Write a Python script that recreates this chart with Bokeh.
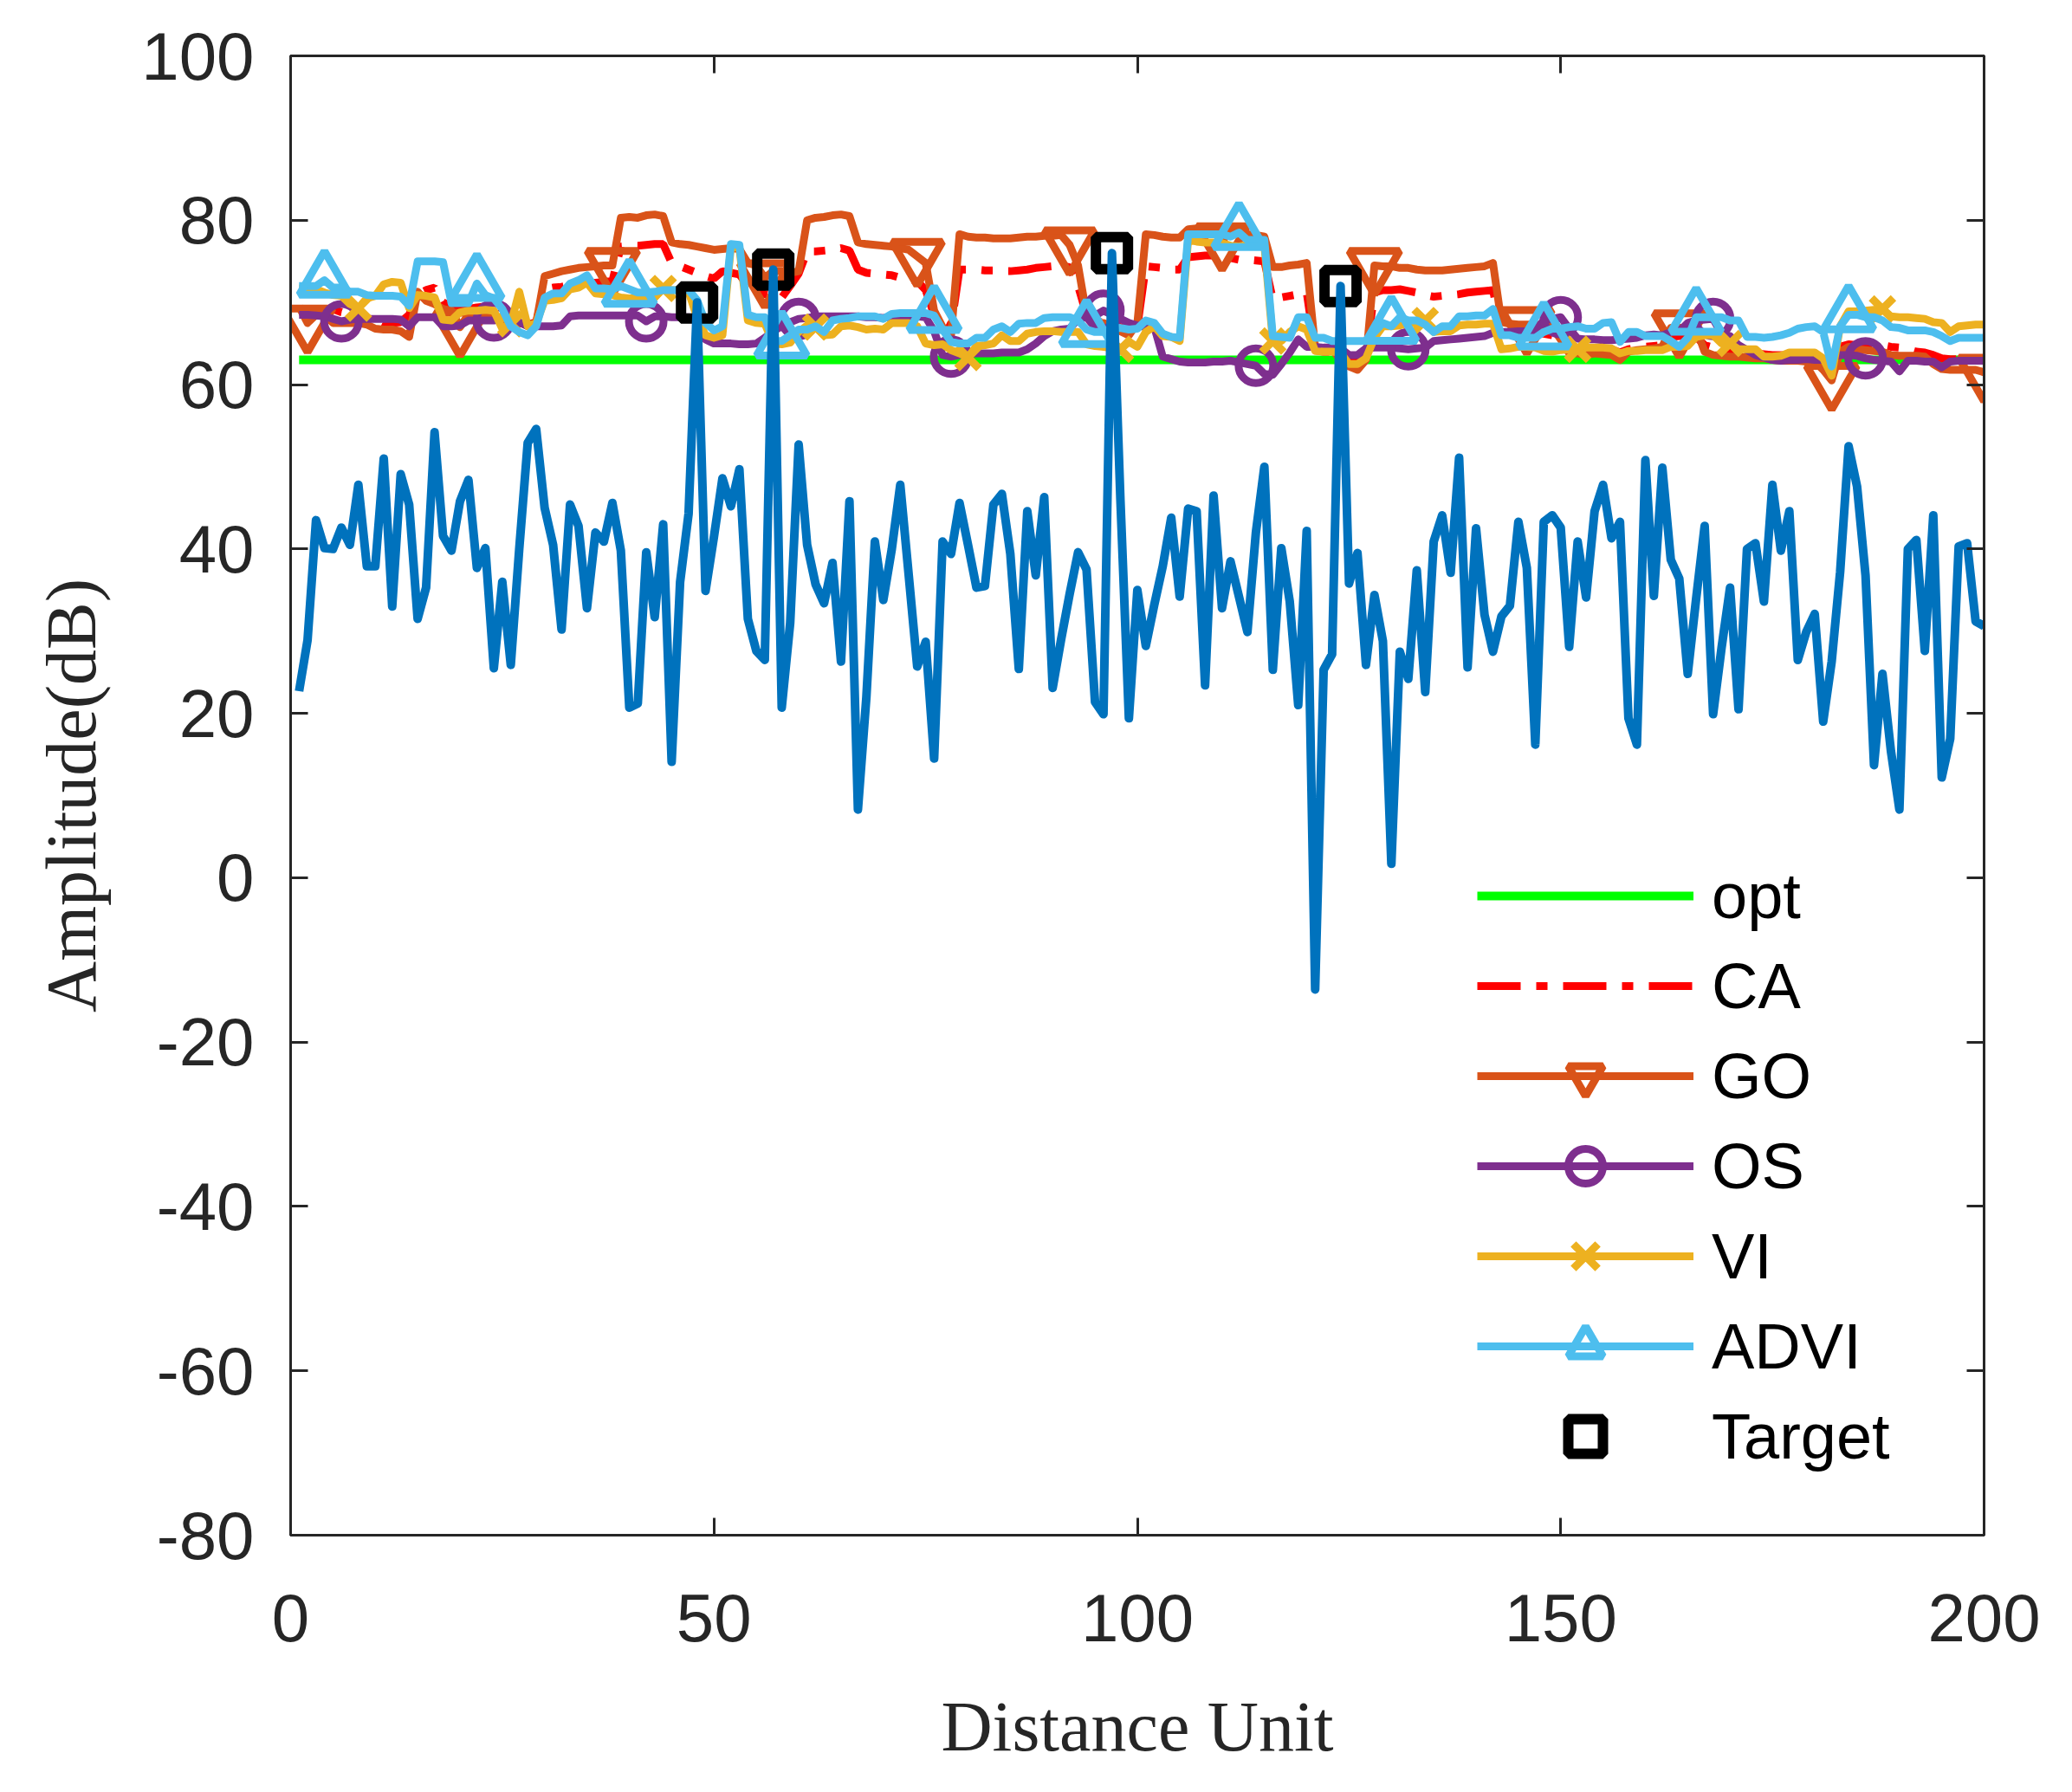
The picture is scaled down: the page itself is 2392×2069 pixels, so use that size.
from bokeh.plotting import figure
from bokeh.models import ColumnDataSource, Range1d, LinearAxis, FixedTicker, Legend, LegendItem
from bokeh.embed import file_html
from bokeh.resources import INLINE

# ---------------- data ----------------
distance = list(range(1, 201))

signal = [
    22.7, 28.9, 43.5, 40.1, 40.0, 42.6, 40.5, 47.8, 37.9, 37.9,
    51.0, 33.0, 49.1, 45.4, 31.5, 35.3, 54.2, 41.6, 39.8, 45.8,
    48.4, 37.7, 40.1, 25.5, 36.0, 25.9, 40.0, 52.9, 54.6, 45.0,
    40.5, 30.2, 45.4, 42.8, 32.8, 42.0, 40.9, 45.6, 39.8, 20.7,
    21.2, 39.6, 31.7, 43.0, 14.1, 36.0, 44.3, 70.0, 34.9, 41.5,
    48.6, 45.2, 49.7, 31.5, 27.6, 26.5, 74.0, 20.7, 31.0, 52.7,
    40.5, 35.7, 33.4, 38.3, 26.3, 45.8, 8.3, 22.0, 40.9, 33.8,
    40.0, 47.8, 36.8, 25.7, 28.7, 14.5, 40.9, 39.4, 45.6, 40.5,
    35.3, 35.5, 45.4, 46.7, 39.4, 25.4, 44.6, 36.8, 46.3, 23.1,
    29.0, 34.5, 39.6, 37.5, 21.4, 19.9, 76.0, 46.0, 19.4, 35.0,
    28.2, 33.2, 37.9, 43.8, 34.2, 44.9, 44.6, 23.4, 46.5, 32.8,
    38.5, 34.2, 29.9, 42.0, 50.0, 25.3, 40.1, 33.6, 21.0, 42.2,
    -13.6, 25.3, 27.2, 72.0, 35.8, 39.5, 25.9, 34.4, 28.8, 1.7,
    27.5, 24.2, 37.4, 22.6, 40.9, 44.1, 37.1, 51.1, 25.6, 42.5,
    32.0, 27.5, 31.8, 33.1, 43.3, 37.7, 16.2, 43.3, 44.1, 42.6,
    28.1, 40.9, 34.1, 44.6, 47.8, 41.3, 43.3, 19.4, 16.2, 50.8,
    34.3, 49.9, 38.7, 36.4, 24.8, 34.0, 42.8, 19.9, 28.0, 35.3,
    20.5, 40.0, 40.7, 33.6, 47.8, 39.8, 44.6, 26.5, 29.9, 32.1,
    19.0, 26.3, 37.2, 52.5, 47.6, 36.8, 13.7, 24.8, 15.4, 8.3,
    40.0, 41.1, 27.6, 44.1, 12.2, 16.9, 40.3, 40.7, 31.2, 30.6,
]

opt = [63.0] * 200

ca = [
    69.0, 69.0, 69.0, 69.0, 69.2, 68.8, 68.6, 68.4, 68.2, 68.0,
    67.5, 67.5, 67.6, 68.5, 71.0, 71.5, 71.8, 70.0, 69.5, 69.0,
    69.2, 69.4, 69.5, 69.5, 69.3, 68.5, 67.5, 67.3, 67.6, 71.6,
    71.8, 71.9, 72.1, 72.2, 72.3, 72.4, 72.5, 72.6, 76.8, 76.9,
    76.9, 77.0, 77.1, 77.1, 74.8, 74.4, 74.0, 73.6, 73.2, 72.9,
    73.8, 73.6, 73.4, 72.0, 71.5, 71.0, 70.8, 70.6, 72.0, 73.5,
    76.2, 76.2, 76.3, 76.4, 76.6, 76.3, 74.0, 73.6, 73.5, 73.4,
    73.3, 73.0, 72.8, 72.6, 71.5, 68.5, 67.5, 67.0, 74.0, 74.0,
    74.0, 73.9, 73.9, 73.8, 73.8, 73.9, 74.0, 74.2, 74.3, 74.4,
    74.4, 74.3, 72.0, 68.5, 67.8, 67.5, 67.2, 67.0, 66.8, 67.0,
    74.4, 74.3, 74.2, 74.0, 74.0, 75.5, 75.6, 75.7, 75.7, 75.6,
    75.4, 75.2, 75.2, 75.1, 75.0, 70.4, 70.6, 70.8, 71.0, 71.2,
    64.2, 64.0, 64.0, 63.5, 63.2, 63.0, 63.5, 71.2, 71.5, 71.5,
    71.6, 71.4, 71.2, 70.9, 70.7, 70.8, 70.9, 71.0, 71.2, 71.3,
    71.4, 71.5, 66.5, 66.4, 66.3, 66.3, 66.2, 66.2, 66.0, 65.5,
    64.3, 64.3, 64.2, 64.4, 64.4, 64.3, 63.9, 64.3, 64.5, 64.6,
    64.7, 64.8, 65.8, 65.9, 65.9, 65.8, 64.8, 64.5, 64.3, 64.2,
    64.0, 63.9, 63.8, 63.7, 63.6, 63.6, 63.5, 63.5, 63.4, 63.4,
    63.2, 63.0, 64.6, 64.9, 64.8, 64.6, 64.6, 64.8, 64.6, 64.5,
    64.3, 64.0, 63.9, 63.6, 63.2, 63.1, 63.1, 63.0, 63.0, 63.0,
]

go = [
    69.5, 67.5, 68.5, 68.5, 67.5, 67.5, 67.5, 67.5, 67.3, 66.8,
    66.7, 66.7, 66.5, 65.8, 71.3, 70.2, 69.8, 69.2, 69.0, 67.0,
    68.5, 68.5, 68.5, 68.3, 68.0, 67.8, 67.5, 67.3, 67.5, 73.2,
    73.5, 73.8, 74.0, 74.2, 74.3, 74.4, 74.5, 74.5, 80.3, 80.4,
    80.3, 80.6, 80.7, 80.5, 77.3, 77.1, 77.0, 76.8, 76.6, 76.4,
    76.5, 76.6, 76.5, 74.8, 74.5, 73.0, 73.8, 73.8, 73.6, 73.8,
    80.0, 80.3, 80.4, 80.6, 80.7, 80.5, 77.3, 77.1, 77.0, 76.9,
    76.8, 76.6, 76.4, 75.6, 74.8, 69.0, 67.0, 66.0, 78.3, 78.0,
    77.9, 77.9, 77.8, 77.8, 77.8, 77.9, 78.0, 78.0, 78.1, 78.1,
    78.2, 77.0, 74.5, 68.5, 67.5, 67.5, 67.0, 66.5, 66.0, 67.5,
    78.3, 78.2, 78.0, 77.9, 77.9, 78.9, 79.0, 79.1, 79.1, 77.5,
    78.6, 78.2, 78.3, 78.2, 78.0, 74.3, 74.3, 74.5, 74.6, 74.8,
    64.5, 64.3, 64.3, 63.0, 62.2, 61.8, 63.0, 74.5, 74.4, 74.4,
    74.2, 74.2, 74.0, 73.9, 73.9, 73.9, 74.0, 74.1, 74.2, 74.3,
    74.4, 74.8, 67.6, 67.4, 67.3, 67.3, 67.3, 67.2, 67.0, 65.5,
    63.8, 63.8, 63.6, 63.8, 63.7, 63.6, 63.0, 64.0, 64.2, 64.3,
    64.4, 64.6, 66.9, 66.9, 66.9, 66.8, 64.0, 63.6, 63.5, 63.4,
    63.4, 63.3, 63.2, 63.2, 63.0, 62.9, 62.9, 62.9, 62.8, 62.8,
    61.8, 60.5, 64.0, 64.6, 64.3, 64.2, 64.1, 64.0, 63.6, 63.5,
    63.5, 63.5, 63.4, 62.5, 61.9, 61.8, 61.8, 61.8, 61.8, 61.5,
]

os_ = [
    68.5, 68.5, 68.4, 68.3, 68.0, 67.7, 67.9, 68.0, 68.0, 68.0,
    68.0, 68.0, 67.9, 67.1, 68.2, 68.2, 68.2, 67.1, 67.1, 67.2,
    67.8, 67.8, 67.8, 67.8, 68.0, 68.0, 67.6, 67.1, 67.1, 67.1,
    67.1, 67.2, 68.3, 68.4, 68.4, 68.4, 68.4, 68.4, 68.4, 68.4,
    68.4, 67.7, 68.3, 68.3, 68.2, 68.2, 68.2, 68.0, 65.5, 65.0,
    65.0, 65.0, 64.9, 64.9, 65.0, 65.7, 66.5, 67.1, 67.6, 68.0,
    68.1, 68.3, 68.3, 68.3, 68.3, 68.3, 68.3, 68.2, 68.2, 68.1,
    68.3, 68.3, 68.3, 68.3, 68.2, 66.5, 63.6, 63.4, 63.6, 63.8,
    63.8, 63.8, 63.8, 63.9, 63.9, 63.9, 64.3, 65.0, 65.9, 66.5,
    66.7, 66.8, 68.0, 68.2, 68.4, 69.0, 68.5, 68.0, 67.5, 67.2,
    67.0, 67.0, 63.4, 63.1, 62.8, 62.7, 62.7, 62.7, 62.8, 62.8,
    62.9, 62.7, 62.5, 62.3, 61.3, 61.2, 62.5, 63.9, 65.5, 64.6,
    64.6, 64.5, 64.5, 64.4, 63.6, 63.6, 64.4, 64.5, 64.5, 64.5,
    64.4, 64.3, 64.4, 64.5, 65.3, 65.4, 65.5, 65.6, 65.7, 65.8,
    65.9, 66.3, 66.4, 66.4, 66.5, 66.5, 66.6, 67.8, 68.0, 68.2,
    66.8, 65.6, 65.5, 65.5, 65.4, 65.4, 65.5, 65.6, 65.7, 66.0,
    66.1, 66.0, 66.4, 66.5, 67.5, 67.8, 67.9, 68.0, 66.2, 65.9,
    64.8, 64.2, 63.6, 63.3, 63.0, 62.9, 63.0, 63.0, 63.1, 63.0,
    63.0, 63.2, 63.6, 63.6, 63.5, 63.2, 63.0, 62.9, 62.8, 61.6,
    62.9, 62.9, 62.8, 62.8, 62.1, 62.8, 62.9, 62.9, 62.9, 62.9,
]

vi = [
    71.7, 71.7, 71.6, 71.2, 70.9, 70.8, 69.8, 69.3, 70.5, 70.8,
    72.2, 72.5, 72.4, 69.3, 70.9, 70.8, 70.6, 67.9, 67.8, 68.8,
    69.0, 69.0, 69.1, 69.0, 66.8, 67.4, 71.3, 67.1, 67.5, 70.2,
    70.3, 70.5, 71.6, 71.8, 72.4, 71.1, 71.0, 70.9, 70.6, 70.5,
    70.5, 70.4, 70.6, 71.7, 71.5, 71.5, 71.3, 68.2, 66.0, 65.7,
    66.0, 76.8, 76.6, 67.8, 67.5, 67.4, 65.0, 64.9, 65.1, 66.4,
    67.2, 67.0, 66.0, 66.1, 67.1, 67.2, 67.0, 66.7, 66.8, 66.7,
    67.5, 67.5, 67.5, 67.1, 65.0, 64.8, 64.9, 64.2, 63.8, 63.3,
    64.7, 64.8, 65.0, 66.0, 65.3, 65.3, 66.2, 66.4, 66.5, 66.5,
    66.4, 66.4, 66.4, 64.9, 64.7, 64.6, 64.4, 64.3, 65.2, 64.6,
    66.4, 67.1, 65.9, 65.8, 65.3, 77.6, 77.4, 77.3, 77.3, 77.2,
    76.9, 76.8, 77.0, 76.9, 77.0, 65.3, 65.3, 66.4, 67.1, 66.7,
    64.1, 64.0, 64.0, 63.9, 62.5, 62.5, 63.2, 65.7, 67.1, 67.1,
    67.2, 67.5, 67.5, 67.8, 66.4, 66.5, 66.5, 67.2, 67.3, 67.3,
    67.4, 67.4, 64.3, 64.4, 64.6, 64.6, 64.5, 64.1, 64.0, 64.2,
    64.3, 64.3, 64.5, 64.5, 64.5, 64.4, 63.8, 64.1, 64.1, 64.2,
    64.2, 64.2, 64.6, 64.6, 64.7, 65.8, 66.0, 66.0, 65.0, 65.0,
    64.3, 64.3, 64.3, 63.4, 63.4, 63.5, 63.9, 63.9, 63.9, 63.9,
    63.2, 61.1, 67.1, 68.9, 68.9, 69.0, 69.1, 69.2, 68.3, 68.2,
    68.2, 68.1, 68.0, 67.6, 67.5, 66.4, 67.1, 67.2, 67.3, 67.3,
]

advi = [
    72.0, 72.0, 72.0, 72.7, 71.8, 71.8, 71.3, 71.3, 70.9, 70.8,
    70.8, 70.8, 70.7, 69.6, 75.0, 75.0, 75.0, 74.9, 69.9, 69.9,
    69.9, 72.3, 70.9, 70.5, 69.2, 67.1, 66.4, 66.0, 67.1, 70.6,
    71.1, 71.1, 72.3, 72.7, 73.3, 71.7, 71.7, 71.6, 72.0, 71.6,
    71.2, 71.2, 71.3, 71.5, 71.5, 71.5, 71.5, 70.3, 67.5, 66.6,
    67.1, 77.1, 77.0, 68.5, 68.2, 68.2, 65.3, 65.3, 66.0, 66.7,
    66.7, 67.1, 66.4, 67.8, 68.0, 68.1, 68.3, 68.3, 68.3, 68.0,
    68.6, 68.7, 68.7, 68.7, 68.7, 68.4, 66.7, 65.2, 65.0, 65.0,
    65.7, 65.7, 66.7, 67.1, 66.4, 67.4, 67.5, 67.5, 68.1, 68.2,
    68.2, 68.2, 67.8, 66.7, 66.4, 66.4, 66.8, 66.9, 66.7, 66.8,
    67.8, 67.5, 66.2, 65.8, 65.7, 78.3, 78.3, 78.3, 78.3, 78.3,
    78.0, 78.5, 77.6, 77.6, 77.6, 65.9, 65.8, 65.7, 68.2, 68.2,
    65.7, 65.7, 65.3, 65.3, 65.3, 65.3, 65.3, 66.4, 67.5, 67.1,
    68.2, 67.8, 67.8, 67.3, 66.4, 67.1, 67.1, 68.3, 68.3, 68.4,
    68.4, 69.2, 66.0, 66.0, 65.7, 65.7, 65.7, 66.4, 66.8, 66.8,
    67.0, 67.1, 66.8, 66.8, 67.5, 67.6, 65.2, 66.4, 66.4, 65.9,
    65.9, 65.9, 65.3, 64.6, 65.7, 68.2, 68.2, 68.2, 68.2, 67.8,
    67.8, 65.8, 65.8, 65.7, 65.8, 66.0, 66.3, 66.8, 67.0, 67.1,
    66.4, 62.2, 67.1, 68.5, 68.5, 68.2, 68.2, 67.8, 67.0, 66.9,
    66.6, 66.6, 66.6, 66.4, 65.9, 65.3, 65.7, 65.7, 65.7, 65.7,
]

target_x = [48, 57, 97, 124]
target_y = [70.0, 74.0, 76.0, 72.0]

# marker positions (every 18th sample, as in the original)
go_marks = list(range(2, 201, 18))
advi_marks = list(range(4, 201, 18))
os_marks = list(range(6, 201, 18))
vi_marks = list(range(8, 201, 18))

x_ticks = [0, 50, 100, 150, 200]
y_ticks = [-80, -60, -40, -20, 0, 20, 40, 60, 80, 100]
x_tick_labels = ["0", "50", "100", "150", "200"]
y_tick_labels = ["-80", "-60", "-40", "-20", "0", "20", "40", "60", "80", "100"]

# ---------------- figure ----------------
AX = "#262626"
p = figure(width=2384, height=2061, output_backend="svg", toolbar_location=None,
           x_range=Range1d(0, 200), y_range=Range1d(-80, 100),
           min_border_left=335, min_border_right=94, min_border_top=64,
           min_border_bottom=289)
p.grid.visible = False
p.outline_line_color = AX
p.outline_line_width = 3
p.background_fill_color = "white"
p.border_fill_color = "white"

x_axis = p.xaxis[0]
y_axis = p.yaxis[0]


def style_axis(ax):
    ax.axis_line_color = AX
    ax.axis_line_width = 3
    ax.major_tick_line_color = AX
    ax.major_tick_line_width = 3
    ax.major_tick_in = 20
    ax.major_tick_out = 0
    ax.minor_tick_line_color = None
    ax.major_label_text_color = AX
    ax.major_label_text_font = "Liberation Sans"
    ax.major_label_text_font_size = "78px"


x_axis.ticker = FixedTicker(ticks=x_ticks)
y_axis.ticker = FixedTicker(ticks=y_ticks)
style_axis(x_axis)
style_axis(y_axis)
x_axis.major_label_overrides = {t: s for t, s in zip(x_ticks, x_tick_labels)}
y_axis.major_label_overrides = {t: s for t, s in zip(y_ticks, y_tick_labels)}
x_axis.major_label_standoff = 68
y_axis.major_label_standoff = 42

top_ax = LinearAxis(ticker=FixedTicker(ticks=x_ticks))
right_ax = LinearAxis(ticker=FixedTicker(ticks=y_ticks))
style_axis(top_ax)
style_axis(right_ax)
top_ax.major_label_overrides = {t: "" for t in x_ticks}
right_ax.major_label_overrides = {t: "" for t in y_ticks}
top_ax.major_label_standoff = 0
right_ax.major_label_standoff = 0
p.add_layout(top_ax, "above")
p.add_layout(right_ax, "right")

for ax, lab, so in ((x_axis, "Distance Unit", 50), (y_axis, "Amplitude(dB)", 32)):
    ax.axis_label = lab
    ax.axis_label_text_font = "Liberation Serif"
    ax.axis_label_text_font_size = "82px"
    ax.axis_label_text_font_style = "normal"
    ax.axis_label_text_color = AX
    ax.axis_label_standoff = so

src = ColumnDataSource(dict(x=distance, signal=signal, opt=opt, ca=ca, go=go,
                            os=os_, vi=vi, advi=advi))


def marks(idx, vals):
    return ColumnDataSource(dict(x=[distance[i - 1] for i in idx],
                                 y=[vals[i - 1] for i in idx]))


LW = 9
C_GREEN, C_RED, C_ORANGE = "#00FF00", "#FF0000", "#D95319"
C_PURPLE, C_YELLOW, C_CYAN, C_BLUE = "#7E2F8E", "#EDB120", "#4DBEEE", "#0072BD"

r_opt = p.line("x", "opt", source=src, line_color=C_GREEN, line_width=10)
r_ca = p.line("x", "ca", source=src, line_color=C_RED, line_width=LW,
              line_dash="50 18 13 18")
r_go = p.line("x", "go", source=src, line_color=C_ORANGE, line_width=LW, line_join="round")
m_go = p.scatter("x", "y", source=marks(go_marks, go), marker="inverted_triangle",
                 size=58, fill_color=None, line_color=C_ORANGE, line_width=LW)
r_os = p.line("x", "os", source=src, line_color=C_PURPLE, line_width=LW, line_join="round")
m_os = p.scatter("x", "y", source=marks(os_marks, os_), marker="circle",
                 size=40, fill_color=None, line_color=C_PURPLE, line_width=LW)
r_vi = p.line("x", "vi", source=src, line_color=C_YELLOW, line_width=LW, line_join="round")
m_vi = p.scatter("x", "y", source=marks(vi_marks, vi), marker="x",
                 size=36, line_color=C_YELLOW, line_width=LW)
r_advi = p.line("x", "advi", source=src, line_color=C_CYAN, line_width=LW, line_join="round")
m_advi = p.scatter("x", "y", source=marks(advi_marks, advi), marker="triangle",
                   size=58, fill_color=None, line_color=C_CYAN, line_width=LW)
r_tg = p.scatter(target_x, target_y, marker="square", size=37, fill_color=None,
                 line_color="black", line_width=12)
r_sig = p.line("x", "signal", source=src, line_color=C_BLUE, line_width=10, line_join="round")

legend = Legend(items=[
    LegendItem(label="opt", renderers=[r_opt]),
    LegendItem(label="CA", renderers=[r_ca]),
    LegendItem(label="GO", renderers=[r_go, m_go]),
    LegendItem(label="OS", renderers=[r_os, m_os]),
    LegendItem(label="VI", renderers=[r_vi, m_vi]),
    LegendItem(label="ADVI", renderers=[r_advi, m_advi]),
    LegendItem(label="Target", renderers=[r_tg]),
], location=(1370, 64), glyph_width=250, glyph_height=100, label_height=100,
    spacing=4, label_standoff=21, padding=0, margin=0,
    border_line_alpha=0, background_fill_alpha=0,
    label_text_font="Liberation Sans", label_text_font_size="74px",
    label_text_color="#000000")
p.add_layout(legend)

open("out.html", "w").write(file_html(p, INLINE))
